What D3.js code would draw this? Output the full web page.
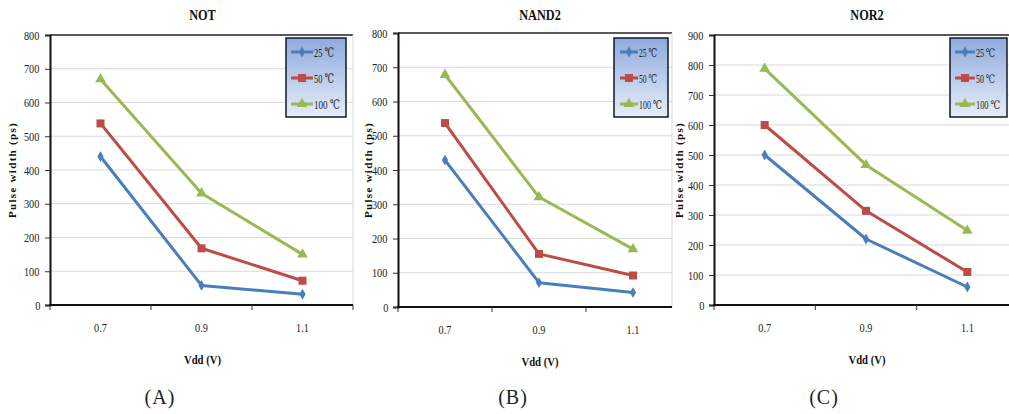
<!DOCTYPE html>
<html>
<head>
<meta charset="utf-8">
<script src="https://cdn.jsdelivr.net/npm/d3@7"></script>
<style>
  body { margin: 0; background: #fff; }
  svg { display: block; }
  .cond { transform-box: fill-box; transform-origin: center; transform: scaleX(0.82); }
</style>
</head>
<body>
<div id="chart"></div>
<script>
// data
var vdd = ["0.7", "0.9", "1.1"];
var temps = ["25 \u2103", "50 \u2103", "100 \u2103"];
var notVals = [[440, 58, 32], [538, 168, 72], [669, 331, 150]];
var nandVals = [[429, 71, 42], [537, 155, 92], [678, 321, 169]];
var norVals = [[500, 220, 60], [600, 314, 110], [788, 467, 248]];
var titles = ["NOT", "NAND2", "NOR2"];
var subLabels = ["(A)", "(B)", "(C)"];
var yMaxes = [800, 800, 900];

var colors = ["#4a7ebb", "#be4b48", "#98b954"];
var width = 1009, height = 414;

// layout of each panel (pixels)
var panels = [
  { vals: notVals,  left: 50,  right: 353, clip: 353,  top: 35, bottom: 305, legX: 286, legW: 60, lx: [5, 27, 28],  tl: [20, 20, 26], fs: 13, ylabX: 12,  sub: 160 },
  { vals: nandVals, left: 398, right: 680, clip: 672,  top: 33, bottom: 307, legX: 614, legW: 54, lx: [6, 24, 25],  tl: [18, 18, 23], fs: 12, ylabX: 368, sub: 513 },
  { vals: norVals,  left: 714, right: 1018, clip: 1018, top: 35, bottom: 305, legX: 950, legW: 57, lx: [5, 25, 26], tl: [19, 19, 24], fs: 11.5, ylabX: 679, sub: 824 }
];

var svg = d3.select("#chart").append("svg")
  .attr("width", width).attr("height", height);

var grad = svg.append("defs").append("linearGradient")
  .attr("id", "legGrad").attr("x1", 0).attr("y1", 0).attr("x2", 0).attr("y2", 1);
grad.append("stop").attr("offset", "0%").attr("stop-color", "#8eaadc");
grad.append("stop").attr("offset", "100%").attr("stop-color", "#e6edf8");

var serif = "'Liberation Serif', 'DejaVu Serif', serif";

function marker(g, k, x, y, color) {
  if (k == 0) {
    g.append("path").attr("d", d3.symbol(d3.symbolDiamond, 34)())
      .attr("transform", "translate(" + x + "," + y + ")").attr("fill", color);
  } else if (k == 1) {
    g.append("rect").attr("x", x - 4).attr("y", y - 4).attr("width", 8).attr("height", 8)
      .attr("fill", color);
  } else {
    g.append("path").attr("d", d3.symbol(d3.symbolTriangle, 50)())
      .attr("transform", "translate(" + x + "," + y + ")").attr("fill", color);
  }
}

panels.forEach(function (p, pi) {
  var g = svg.append("g");
  var x = d3.scaleBand().domain(vdd).range([p.left, p.right]).padding(0);
  var y = d3.scaleLinear().domain([0, yMaxes[pi]]).range([p.bottom, p.top]);
  var cx = function (c) { return x(c) + x.bandwidth() / 2; };

  // gridlines
  g.selectAll(".grid").data(y.ticks(yMaxes[pi] / 100).filter(function (t) { return t > 0 && t < yMaxes[pi]; }))
    .enter().append("line")
    .attr("x1", p.left).attr("x2", p.clip)
    .attr("y1", function (d) { return y(d); }).attr("y2", function (d) { return y(d); })
    .attr("stroke", "#d9d9d9").attr("stroke-width", 1.2);

  // frame top / right
  g.append("line").attr("x1", p.left).attr("x2", p.clip).attr("y1", p.top).attr("y2", p.top)
    .attr("stroke", "#222").attr("stroke-width", 1.5);
  g.append("line").attr("x1", p.clip).attr("x2", p.clip).attr("y1", p.top).attr("y2", p.bottom)
    .attr("stroke", "#d9d9d9").attr("stroke-width", 1);

  // y axis
  var yAxis = d3.axisLeft(y).ticks(yMaxes[pi] / 100).tickSize(5).tickPadding(4);
  var ya = g.append("g").attr("transform", "translate(" + p.left + ",0)").call(yAxis);
  ya.select(".domain").attr("stroke", "#111").attr("stroke-width", 2);
  ya.selectAll(".tick line").attr("stroke", "#333");
  ya.selectAll(".tick text").attr("class", "cond")
    .style("font-family", serif).style("font-size", "12.5px").attr("fill", "#222");

  // x axis with boundary ticks
  g.append("line").attr("x1", p.left - 1).attr("x2", p.clip).attr("y1", p.bottom).attr("y2", p.bottom)
    .attr("stroke", "#111").attr("stroke-width", 2);
  var bounds = vdd.map(function (c) { return x(c); }).concat([p.right]).filter(function (v) { return v <= p.clip; });
  g.selectAll(".xt").data(bounds).enter().append("line")
    .attr("x1", function (d) { return d; }).attr("x2", function (d) { return d; })
    .attr("y1", p.bottom).attr("y2", p.bottom + 5).attr("stroke", "#333").attr("stroke-width", 1);
  g.selectAll(".xl").data(vdd).enter().append("text")
    .attr("class", "cond")
    .attr("x", function (d) { return cx(d); }).attr("y", p.bottom + 27)
    .attr("text-anchor", "middle").style("font-family", serif).style("font-size", "12.5px")
    .attr("fill", "#222").text(function (d) { return d; });

  // series
  p.vals.forEach(function (s, si) {
    var line = d3.line().x(function (d, i) { return cx(vdd[i]); }).y(function (d) { return y(d); });
    g.append("path").datum(s).attr("d", line).attr("fill", "none")
      .attr("stroke", colors[si]).attr("stroke-width", 3).attr("stroke-linejoin", "round");
    s.forEach(function (v, i) { marker(g, si, cx(vdd[i]), y(v), colors[si]); });
  });

  // titles
  g.append("text").attr("class", "cond").attr("x", (p.left + p.right) / 2 + 1).attr("y", 20)
    .attr("text-anchor", "middle").style("font-family", serif).style("font-size", "15px")
    .style("font-weight", "bold").attr("fill", "#111").text(titles[pi]);
  g.append("text").attr("class", "cond").attr("x", (p.left + p.right) / 2 + 1).attr("y", p.bottom + 59)
    .attr("text-anchor", "middle").style("font-family", serif).style("font-size", "13px")
    .style("font-weight", "bold").attr("fill", "#111").text("Vdd (V)");
  g.append("g").attr("transform", "translate(" + p.ylabX + "," + ((p.top + p.bottom) / 2) + ") rotate(-90)")
    .append("text").attr("text-anchor", "middle").attr("dy", "0.35em")
    .style("font-family", serif).style("font-size", "11px").style("font-weight", "bold")
    .style("letter-spacing", "1.3px").attr("fill", "#111").text("Pulse width (ps)");

  // legend
  var lg = g.append("g").attr("transform", "translate(" + p.legX + ",38)");
  lg.append("rect").attr("x", 0).attr("y", 0).attr("width", p.legW).attr("height", 79)
    .attr("fill", "url(#legGrad)").attr("stroke", "#101828").attr("stroke-width", 1.5);
  temps.forEach(function (t, ti) {
    var ly = 14 + ti * 26;
    lg.append("line").attr("x1", p.lx[0]).attr("x2", p.lx[1]).attr("y1", ly).attr("y2", ly)
      .attr("stroke", colors[ti]).attr("stroke-width", 3);
    marker(lg, ti, (p.lx[0] + p.lx[1]) / 2, ly, colors[ti]);
    lg.append("text").attr("x", p.lx[2]).attr("y", ly + 5)
      .style("font-family", serif).style("font-size", p.fs + "px").attr("fill", "#222")
      .attr("textLength", p.tl[ti]).attr("lengthAdjust", "spacingAndGlyphs").text(t);
  });

  // panel label
  svg.append("text").attr("x", p.sub).attr("y", 404).attr("text-anchor", "middle")
    .style("font-family", serif).style("font-size", "20px").attr("fill", "#222")
    .style("letter-spacing", "1px").text(subLabels[pi]);
});
</script>
</body>
</html>
